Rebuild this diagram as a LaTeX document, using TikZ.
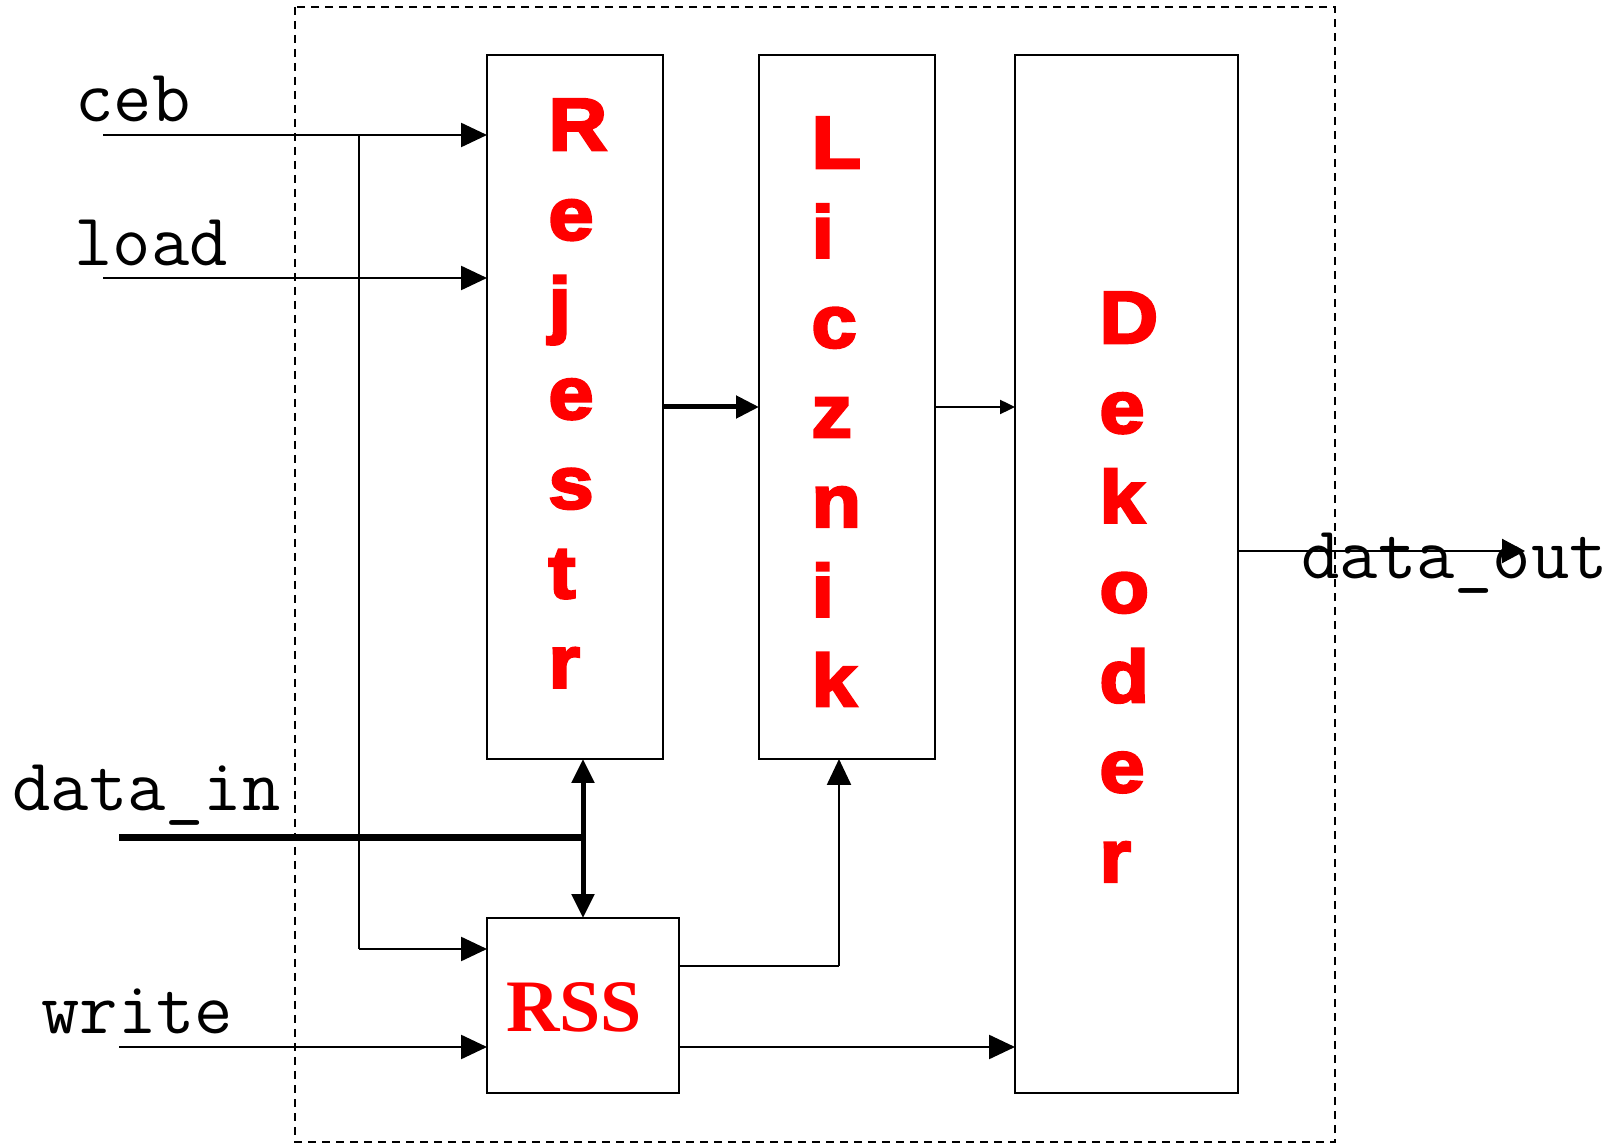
\documentclass[tikz,border=0pt]{standalone}
\usepackage{fontspec}
\usetikzlibrary{arrows.meta,calc}
\newfontfamily\heavy{Liberation Sans Bold}[FakeBold=3.5,FakeStretch=1.1]
\newfontfamily\serifb{Liberation Serif Bold}
\begin{document}
\begin{tikzpicture}[x=0.5pt,y=-0.5pt,
  box/.style={draw,line width=1.2pt,inner sep=0pt,outer sep=0pt,rectangle},
  wire/.style={line width=1.2pt},
  arr/.style={line width=1.2pt,-{Triangle[length=13pt,width=12pt]}},
  outarr/.style={line width=1.2pt,-{Triangle[length=11.5pt,width=12pt]}},
  smallarr/.style={line width=1.2pt,-{Triangle[length=7.5pt,width=7pt]}},
  busarr/.style={line width=2.5pt,-{Triangle[length=11.5pt,width=11pt]}},
  dblarr/.style={line width=2.5pt,{Triangle[length=12pt,width=11pt]}-{Triangle[length=12pt,width=11pt]}},
  bus/.style={line width=3.5pt},
  lbl/.style={font=\ttfamily\fontsize{37.2}{40}\selectfont,anchor=base west,inner sep=0pt},
  big/.style={font=\heavy\fontsize{37}{40}\selectfont,text=red,anchor=base west,inner sep=0pt},
]
\useasboundingbox (0,0) rectangle (1614,1144);
% outer dashed frame
\draw[line width=1pt,dash pattern=on 4pt off 3pt] (295,7) rectangle (1335,1142);
% blocks
\node[box,minimum width=88pt,minimum height=352pt] (rej) at (575,407) {};
\node[box,minimum width=88pt,minimum height=352pt] (lic) at (847,407) {};
\node[box,minimum width=111.5pt,minimum height=519pt] (dek) at (1126.5,574) {};
\node[box,minimum width=96pt,minimum height=87.5pt] (rss) at (583,1005.5) {};
\node[font=\serifb\fontsize{37}{40}\selectfont,text=red,inner sep=0pt] (rsst) at (574,1007) {RSS};
% stacked letters
\foreach \ch [count=\i] in {R,e,j,e,s,t,r}
  \node[big] (rl\i) at (548,{150+89.6*(\i-1)}) {\ch};
\foreach \ch [count=\i] in {L,i,c,z,n,i,k}
  \node[big] (ll\i) at (811,{168+89.7*(\i-1)}) {\ch};
\foreach \ch [count=\i] in {D,e,k,o,d,e,r}
  \node[big] (dl\i) at (1099,{343+89.8*(\i-1)}) {\ch};
% labels
\node[lbl] (tceb) at (75,122) {ceb};
\node[lbl] (tload) at (74,266) {load};
\node[lbl] (tdin) at (12,811) {data\_in};
\node[lbl] (twrite) at (41,1033) {write};
\node[lbl] (tdout) at (1301,579) {data\_out};
% coordinates
\coordinate (cebS) at (103,135);
\coordinate (loadS) at (103,278);
\coordinate (brT) at (359,135);
\coordinate (brB) at (359,949);
\coordinate (dinS) at (119,838);
\coordinate (dinJ) at (583,838);
\coordinate (wrS) at (119,1047);
\coordinate (rlk) at (839,966);
\coordinate (outE) at (1525,551);
% connectors
\draw[arr] (cebS) -- (rej.west |- cebS);
\draw[arr] (loadS) -- (rej.west |- loadS);
\draw[wire] (brT) -- (brB);
\draw[arr] (brB) -- (rss.west |- brB);
\draw[bus] (dinS) -- (dinJ);
\draw[dblarr] (rss.north |- rej.south) -- (rss.north);
\draw[arr] (wrS) -- (rss.west |- wrS);
\draw[busarr] (rej.east) -- (lic.west);
\draw[smallarr] (lic.east) -- (dek.west |- lic.east);
\draw[outarr] (dek.east |- outE) -- (outE);
\draw[wire] (rss.east |- rlk) -- (rlk);
\draw[arr] (rlk) -- (rlk |- lic.south);
\draw[arr] (rss.east |- wrS) -- (dek.west |- wrS);
\end{tikzpicture}
\end{document}
